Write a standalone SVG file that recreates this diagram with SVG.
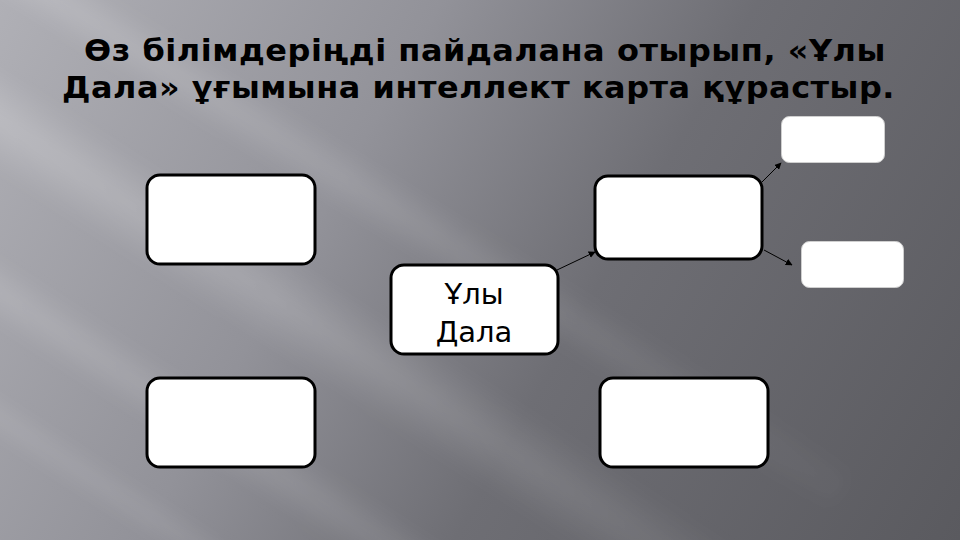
<svg xmlns="http://www.w3.org/2000/svg" width="960" height="540" viewBox="0 0 960 540">
  <defs>
    <linearGradient id="bg" x1="0" y1="0" x2="960" y2="540" gradientUnits="userSpaceOnUse">
      <stop offset="0" stop-color="#b0b0b6"/>
      <stop offset="0.35" stop-color="#929299"/>
      <stop offset="0.6" stop-color="#6e6e74"/>
      <stop offset="1" stop-color="#5a5a5f"/>
    </linearGradient>
    <linearGradient id="band" x1="0" y1="0" x2="0" y2="1">
      <stop offset="0" stop-color="#ffffff" stop-opacity="0"/>
      <stop offset="0.5" stop-color="#ffffff" stop-opacity="1"/>
      <stop offset="1" stop-color="#ffffff" stop-opacity="0"/>
    </linearGradient>
    <linearGradient id="fadeX" x1="0" y1="0" x2="1" y2="0">
      <stop offset="0" stop-color="#fff" stop-opacity="1"/>
      <stop offset="0.55" stop-color="#fff" stop-opacity="0.6"/>
      <stop offset="1" stop-color="#fff" stop-opacity="0"/>
    </linearGradient>
    <mask id="fm" maskUnits="userSpaceOnUse" x="0" y="0" width="960" height="540">
      <rect x="0" y="0" width="960" height="540" fill="url(#fadeX)"/>
    </mask>
    <filter id="soft" x="-10%" y="-10%" width="120%" height="120%">
      <feGaussianBlur stdDeviation="8"/>
    </filter>
    <marker id="arr" viewBox="0 0 10 10" refX="9" refY="5" markerWidth="7" markerHeight="7" markerUnits="userSpaceOnUse" orient="auto">
      <path d="M0,0 L10,5 L0,10 Z" fill="#000"/>
    </marker>
    <style>
      .title { font-family: "DejaVu Sans", "Noto Sans", sans-serif; font-weight: bold; font-size: 30px; fill: #000; letter-spacing: 0.5px; }
      .box { fill: #fff; stroke: #000; stroke-width: 3; }
      .small { fill: #fff; stroke: #cfcfcf; stroke-width: 1; }
      .label { font-family: "DejaVu Sans", "Noto Sans", sans-serif; font-size: 29px; fill: #000; text-anchor: middle; }
      .conn { stroke: #000; stroke-width: 1; fill: none; marker-end: url(#arr); }
      .streak { fill: url(#band); }
    </style>
  </defs>

  <!-- background -->
  <rect x="0" y="0" width="960" height="540" fill="url(#bg)"/>
  <g mask="url(#fm)" filter="url(#soft)">
    <g transform="translate(250 120) rotate(32)">
      <rect class="streak" x="-700" y="-30" width="1400" height="60" opacity="0.16"/>
    </g>
    <g transform="translate(200 250) rotate(33)">
      <rect class="streak" x="-700" y="-45" width="1400" height="90" opacity="0.2"/>
    </g>
    <g transform="translate(150 390) rotate(33)">
      <rect class="streak" x="-700" y="-30" width="1400" height="60" opacity="0.14"/>
    </g>
    <g transform="translate(80 470) rotate(33)">
      <rect class="streak" x="-700" y="-20" width="1400" height="40" opacity="0.1"/>
    </g>
  </g>

  <!-- title -->
  <g id="title">
    <text class="title" x="84" y="61" textLength="802" lengthAdjust="spacingAndGlyphs">Өз білімдеріңді пайдалана отырып, «Ұлы</text>
    <text class="title" x="62" y="98" textLength="833" lengthAdjust="spacingAndGlyphs">Дала» ұғымына интеллект карта құрастыр.</text>
  </g>

  <!-- connectors -->
  <g id="connectors">
    <line class="conn" x1="557" y1="270" x2="595" y2="252"/>
    <line class="conn" x1="762" y1="182" x2="781" y2="163"/>
    <line class="conn" x1="764" y1="250" x2="792" y2="265"/>
  </g>

  <!-- nodes -->
  <g id="node-top-left">
    <rect class="box" x="147" y="175" width="168" height="89" rx="13"/>
  </g>
  <g id="node-bottom-left">
    <rect class="box" x="147" y="378" width="168" height="89" rx="13"/>
  </g>
  <g id="node-center">
    <rect class="box" x="391" y="265" width="167" height="89" rx="13"/>
    <text class="label" x="474" y="304">Ұлы</text>
    <text class="label" x="474" y="342">Дала</text>
  </g>
  <g id="node-top-right">
    <rect class="box" x="595" y="176" width="167" height="83" rx="13"/>
  </g>
  <g id="node-bottom-right">
    <rect class="box" x="600" y="378" width="168" height="89" rx="13"/>
  </g>
  <g id="node-small-top">
    <rect class="small" x="781.5" y="116.5" width="103" height="46" rx="8"/>
  </g>
  <g id="node-small-bottom">
    <rect class="small" x="801.5" y="241.5" width="102" height="46" rx="8"/>
  </g>
</svg>
